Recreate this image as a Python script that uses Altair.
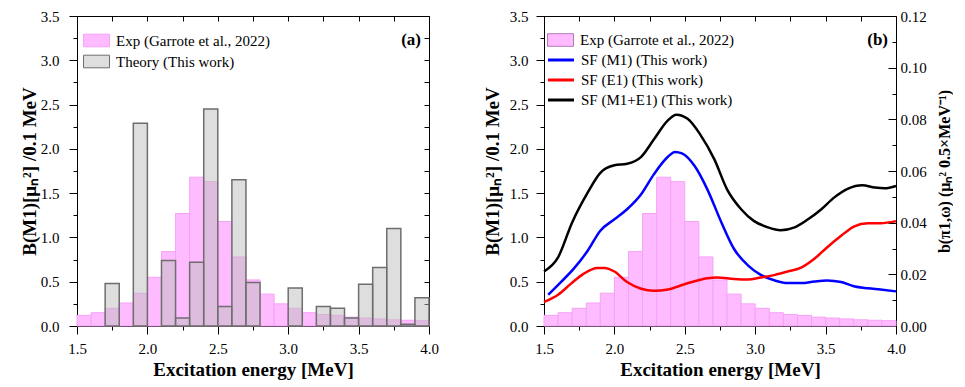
import altair as alt
import pandas as pd

# ---------------- data ----------------
bin_lo = [1.5, 1.6, 1.7, 1.8, 1.9, 2.0, 2.1, 2.2, 2.3, 2.4, 2.5, 2.6, 2.7,
          2.8, 2.9, 3.0, 3.1, 3.2, 3.3, 3.4, 3.5, 3.6, 3.7, 3.8, 3.9]
bin_hi = [1.6, 1.7, 1.8, 1.9, 2.0, 2.1, 2.2, 2.3, 2.4, 2.5, 2.6, 2.7, 2.8,
          2.9, 3.0, 3.1, 3.2, 3.3, 3.4, 3.5, 3.6, 3.7, 3.8, 3.9, 4.0]
exp_vals = [0.12, 0.15, 0.20, 0.26, 0.37, 0.55, 0.84, 1.27, 1.68, 1.63, 1.18, 0.78, 0.52,
            0.36, 0.25, 0.20, 0.15, 0.13, 0.12, 0.10, 0.09, 0.08, 0.07, 0.065, 0.06]
theory_vals = [0.0, 0.0, 0.48, 0.0, 2.29, 0.0, 0.74, 0.09, 0.72, 2.45, 0.22, 1.65, 0.49,
               0.0, 0.0, 0.43, 0.0, 0.22, 0.20, 0.09, 0.47, 0.66, 1.10, 0.02, 0.32]

tot_E = [1.50, 1.60, 1.70, 1.81, 1.90, 2.00, 2.09, 2.19, 2.28, 2.38, 2.44, 2.52, 2.61, 2.71,
         2.80, 2.90, 2.99, 3.09, 3.18, 3.28, 3.37, 3.47, 3.56, 3.66, 3.76, 3.85, 3.92, 4.00]
tot_b = [0.0211, 0.0266, 0.0401, 0.0516, 0.0593, 0.0622, 0.0628, 0.0655, 0.0722, 0.0796,
         0.0818, 0.0802, 0.0741, 0.0645, 0.0529, 0.0452, 0.0407, 0.0382, 0.0371, 0.0382,
         0.0411, 0.0452, 0.0497, 0.0532, 0.0545, 0.0536, 0.0533, 0.0542]

m1_E = [1.53, 1.62, 1.71, 1.81, 1.90, 2.00, 2.09, 2.19, 2.28, 2.38, 2.43, 2.48, 2.57, 2.66,
        2.76, 2.85, 2.95, 3.04, 3.14, 3.23, 3.33, 3.42, 3.51, 3.61, 3.70, 3.80, 3.89, 4.00]
m1_b = [0.0121, 0.0170, 0.0221, 0.0291, 0.0369, 0.0413, 0.0452, 0.0510, 0.0587, 0.0655,
        0.0674, 0.0668, 0.0619, 0.0529, 0.0401, 0.0298, 0.0234, 0.0198, 0.0176, 0.0166,
        0.0166, 0.0172, 0.0176, 0.0170, 0.0154, 0.0146, 0.0141, 0.0134]

e1_E = [1.50, 1.60, 1.69, 1.78, 1.88, 1.93, 2.00, 2.09, 2.19, 2.28, 2.38, 2.47, 2.57, 2.66,
        2.73, 2.85, 2.95, 3.04, 3.14, 3.23, 3.33, 3.42, 3.51, 3.61, 3.70, 3.80, 3.89, 4.00]
e1_b = [0.0093, 0.0121, 0.0163, 0.0202, 0.0225, 0.0225, 0.0211, 0.0170, 0.0144, 0.0136,
        0.0141, 0.0157, 0.0173, 0.0185, 0.0188, 0.0182, 0.0180, 0.0188, 0.0198, 0.0211,
        0.0227, 0.0260, 0.0304, 0.0349, 0.0385, 0.0398, 0.0398, 0.0406]

EXP = "Exp (Garrote et al., 2022)"
TH = "Theory (This work)"
S_M1 = "SF (M1) (This work)"
S_E1 = "SF (E1) (This work)"
S_T = "SF (M1+E1) (This work)"

# ---------------- styling ----------------
FONT = "Liberation Serif"
W, H = 352, 310
PINK = "#ffbbff"
PINK_EDGE = "#f5a3f5"
Y_TITLE = "B(M1)[\u03bc\u2099\u00b2] /0.1 MeV"
R_TITLE = "b(\u03c01,\u03c9) (\u03bc\u2099\u00b2 0.5\u00d7MeV\u207b\u00b9)"
RECT = "M-2,-0.97L2,-0.97L2,0.97L-2,0.97Z"
LINE = "M-2,0L2,0"

exp_df = pd.DataFrame({"lo": bin_lo, "hi": bin_hi, "val": exp_vals, "series": EXP})
th_df = pd.DataFrame({"lo": bin_lo, "hi": bin_hi, "val": theory_vals, "series": TH})
th_df = th_df[th_df["val"] > 0]
lines_df = pd.concat([
    pd.DataFrame({"E": m1_E, "b": m1_b, "series": S_M1}),
    pd.DataFrame({"E": e1_E, "b": e1_b, "series": S_E1}),
    pd.DataFrame({"E": tot_E, "b": tot_b, "series": S_T}),
])

xs = alt.Scale(domain=[1.5, 4.0], nice=False, zero=False)
ys = alt.Scale(domain=[0, 3.5], nice=False)
rs = alt.Scale(domain=[0, 0.12], nice=False)

xvals = [1.5 + 0.25 * i for i in range(11)]
yvals = [0.25 * i for i in range(15)]
LBL = "datum.value % 0.5 == 0 ? format(datum.value, '.1f') : ''"
TICK = {"condition": {"test": "datum.value % 0.5 != 0", "value": 4}, "value": 8}


def x_bottom():
    return alt.Axis(values=xvals, labelExpr=LBL, tickSize=TICK, title="Excitation energy [MeV]",
                    labelPadding=7, titlePadding=4, labelFlush=False)


def y_left(lp, tp):
    return alt.Axis(values=yvals, labelExpr=LBL, tickSize=TICK, title=Y_TITLE,
                    labelPadding=lp, titlePadding=tp, labelFlush=False)


top_ax = alt.Axis(orient="top", values=xvals, labels=False, tickSize=5, offset=-5,
                  domain=False, title=None)
right_mirror = alt.Axis(orient="right", values=yvals, labels=False, tickSize=5, offset=-5,
                        domain=False, title=None)


def label(txt):
    return alt.Chart(pd.DataFrame({"t": [txt]})).mark_text(
        font=FONT, fontSize=17, fontWeight="bold", align="right", baseline="middle", color="black"
    ).encode(x=alt.value(W - 8), y=alt.value(24), text="t:N")


def legend(x, y, shape, sw, **kw):
    return alt.Legend(orient="none", legendX=x, legendY=y, title=None, symbolType=shape,
                      symbolSize=169, symbolOffset=6.5, labelOffset=12, rowPadding=4,
                      symbolStrokeWidth=sw, labelFontSize=15, labelFont=FONT,
                      labelFontWeight="normal", padding=0, **kw)


# ---------------- panel (a) ----------------
leg_a = legend(5.5, 17, RECT, 1)
fill_a = alt.Scale(domain=[EXP, TH], range=[PINK, "rgba(190,190,190,0.5)"])
stroke_a = alt.Scale(domain=[EXP, TH], range=[PINK_EDGE, "#6e6e6e"])

pink_a = alt.Chart(exp_df).mark_rect(strokeWidth=1).encode(
    x=alt.X("lo:Q", scale=xs, axis=x_bottom()), x2="hi:Q",
    y=alt.Y("val:Q", scale=ys, axis=y_left(10, 1)), y2=alt.datum(0),
    fill=alt.Fill("series:N", scale=fill_a, legend=leg_a),
    stroke=alt.Stroke("series:N", scale=stroke_a, legend=leg_a),
)
gray_a = alt.Chart(th_df).mark_rect(strokeWidth=1.5).encode(
    x=alt.X("lo:Q", scale=xs, axis=x_bottom()), x2="hi:Q",
    y=alt.Y("val:Q", scale=ys, axis=y_left(10, 1)), y2=alt.datum(0),
    fill=alt.Fill("series:N", scale=fill_a, legend=leg_a),
    stroke=alt.Stroke("series:N", scale=stroke_a, legend=leg_a),
)
mir_a = alt.Chart(exp_df).mark_point(opacity=0).encode(
    x=alt.X("lo:Q", scale=xs, axis=top_ax),
    y=alt.Y("val:Q", scale=ys, axis=right_mirror),
)
panel_a = alt.layer(alt.layer(pink_a, gray_a, label("(a)")), mir_a).resolve_scale(
    x="independent", y="independent").properties(width=W, height=H)

# ---------------- panel (b) ----------------
leg_b1 = legend(2.5, 16.5, RECT, 1, symbolStrokeColor="#b47ab4")
leg_b2 = legend(2.5, 36, LINE, 3)

pink_b = alt.Chart(exp_df).mark_rect(stroke=PINK_EDGE, strokeWidth=1).encode(
    x=alt.X("lo:Q", scale=xs, axis=x_bottom()), x2="hi:Q",
    y=alt.Y("val:Q", scale=ys, axis=y_left(8, 7)), y2=alt.datum(0),
    fill=alt.Fill("series:N", scale=alt.Scale(domain=[EXP], range=[PINK]), legend=leg_b1),
)
lines_b = alt.Chart(lines_df).mark_line(strokeWidth=2.5, interpolate="monotone").encode(
    x=alt.X("E:Q", scale=xs, axis=None),
    y=alt.Y("b:Q", scale=rs, axis=alt.Axis(
        orient="right", values=[0.0, 0.02, 0.04, 0.06, 0.08, 0.10, 0.12], format=".2f",
        tickSize=8, offset=-8, domain=False, labelPadding=4, title=R_TITLE,
        titleAngle=270, titleBaseline="top", titleFontSize=16, titlePadding=10,
        labelFlush=False)),
    stroke=alt.Stroke("series:N", scale=alt.Scale(domain=[S_M1, S_E1, S_T],
                                                 range=["#0000ff", "#ff0000", "#000000"]),
                      legend=leg_b2),
)
mir_b = alt.Chart(lines_df).mark_point(opacity=0).encode(
    x=alt.X("E:Q", scale=xs, axis=top_ax),
    y=alt.Y("b:Q", scale=rs, axis=alt.Axis(
        orient="right", values=[0.01, 0.03, 0.05, 0.07, 0.09, 0.11], labels=False,
        tickSize=4, offset=-4, domain=False, title=None)),
)
panel_b = alt.layer(alt.layer(pink_b, label("(b)")), lines_b, mir_b).resolve_scale(
    x="independent", y="independent").properties(width=W, height=H)

chart = alt.hconcat(panel_a, panel_b, spacing=43).resolve_scale(
    fill="independent", stroke="independent"
).resolve_legend(
    fill="independent", stroke="independent"
).properties(
    padding={"left": 11, "top": 0, "right": 0, "bottom": 0}
).configure_axis(
    labelFont=FONT, titleFont=FONT, labelFontSize=15, titleFontSize=19,
    titleFontWeight="bold", labelColor="black", titleColor="black",
    domainColor="black", tickColor="black", grid=False, domainWidth=1, tickWidth=1,
).configure_view(stroke="black", strokeWidth=1).configure_legend(
    labelColor="black", labelFont=FONT
)

chart.save("out.html", embed_options={"renderer": "svg", "actions": False})
